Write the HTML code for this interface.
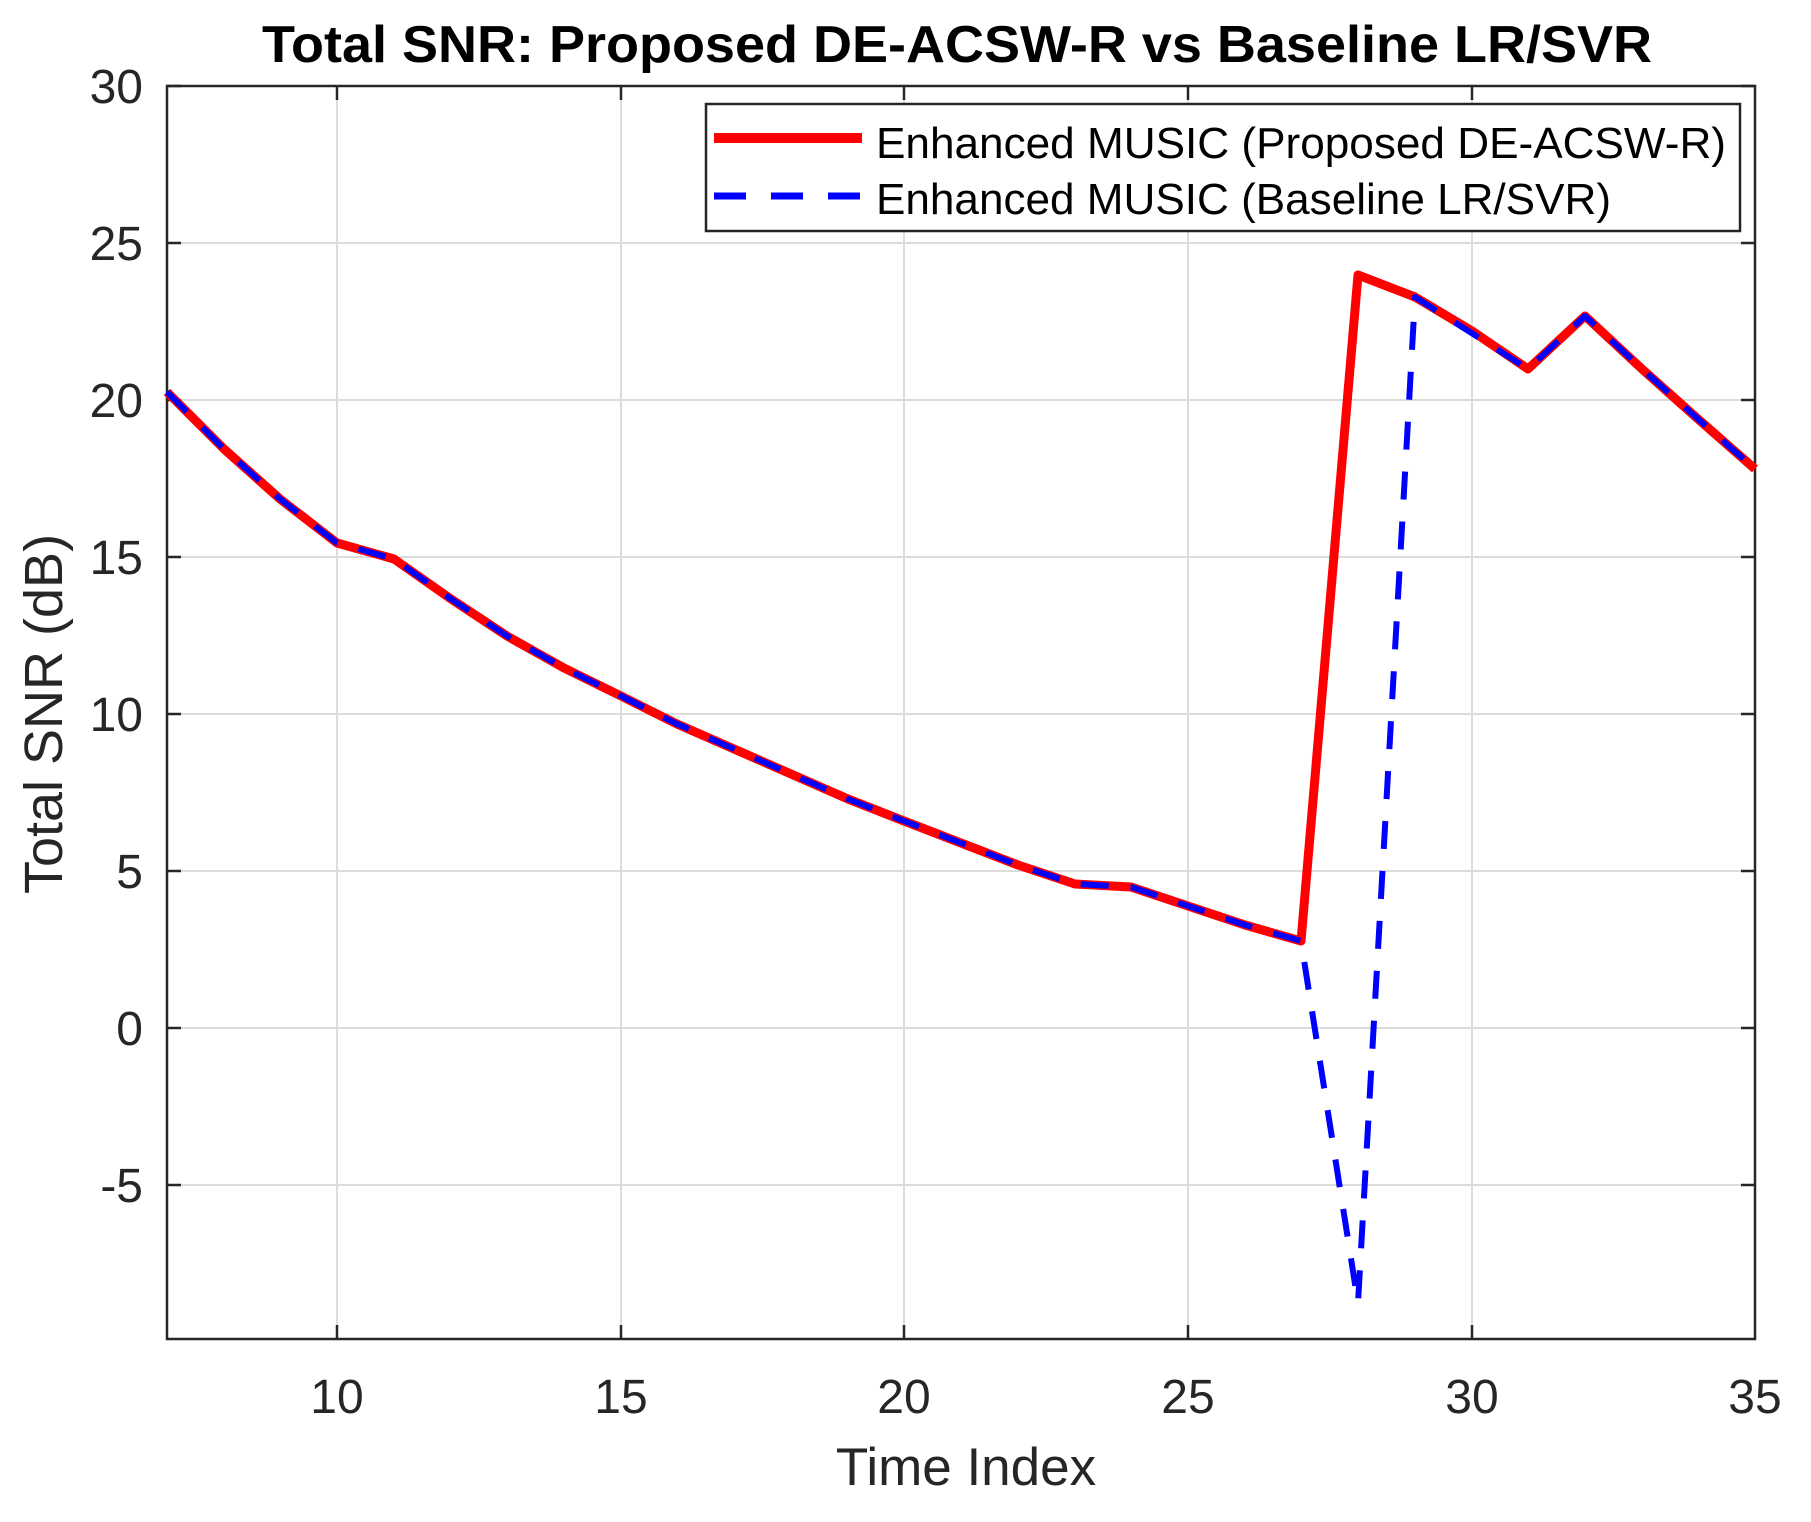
<!DOCTYPE html>
<html><head><meta charset="utf-8"><style>
html,body{margin:0;padding:0;background:#fff;}
svg{display:block;font-family:"Liberation Sans",Arial,sans-serif;}
</style></head><body>
<svg width="1811" height="1522" viewBox="0 0 1811 1522" xmlns="http://www.w3.org/2000/svg">
<rect width="1811" height="1522" fill="#fff"/>
<g stroke="#dcdcdc" stroke-width="2">
<line x1="337" y1="86" x2="337" y2="1339"/><line x1="621" y1="86" x2="621" y2="1339"/><line x1="904" y1="86" x2="904" y2="1339"/><line x1="1188" y1="86" x2="1188" y2="1339"/><line x1="1472" y1="86" x2="1472" y2="1339"/>
<line x1="167" y1="243" x2="1755" y2="243"/><line x1="167" y1="400" x2="1755" y2="400"/><line x1="167" y1="557" x2="1755" y2="557"/><line x1="167" y1="714" x2="1755" y2="714"/><line x1="167" y1="871" x2="1755" y2="871"/><line x1="167" y1="1028" x2="1755" y2="1028"/><line x1="167" y1="1185" x2="1755" y2="1185"/>
</g>
<g stroke="#262626" stroke-width="2.5">
<line x1="337" y1="1339" x2="337" y2="1325"/><line x1="621" y1="1339" x2="621" y2="1325"/><line x1="904" y1="1339" x2="904" y2="1325"/><line x1="1188" y1="1339" x2="1188" y2="1325"/><line x1="1472" y1="1339" x2="1472" y2="1325"/>
<line x1="337" y1="86" x2="337" y2="100"/><line x1="621" y1="86" x2="621" y2="100"/><line x1="904" y1="86" x2="904" y2="100"/><line x1="1188" y1="86" x2="1188" y2="100"/><line x1="1472" y1="86" x2="1472" y2="100"/>
<line x1="167" y1="86" x2="181" y2="86"/><line x1="167" y1="243" x2="181" y2="243"/><line x1="167" y1="400" x2="181" y2="400"/><line x1="167" y1="557" x2="181" y2="557"/><line x1="167" y1="714" x2="181" y2="714"/><line x1="167" y1="871" x2="181" y2="871"/><line x1="167" y1="1028" x2="181" y2="1028"/><line x1="167" y1="1185" x2="181" y2="1185"/>
<line x1="1755" y1="86" x2="1741" y2="86"/><line x1="1755" y1="243" x2="1741" y2="243"/><line x1="1755" y1="400" x2="1741" y2="400"/><line x1="1755" y1="557" x2="1741" y2="557"/><line x1="1755" y1="714" x2="1741" y2="714"/><line x1="1755" y1="871" x2="1741" y2="871"/><line x1="1755" y1="1028" x2="1741" y2="1028"/><line x1="1755" y1="1185" x2="1741" y2="1185"/>
<rect x="167" y="86" width="1588" height="1253" fill="none"/>
</g>
<polyline fill="none" stroke="#ff0000" stroke-width="9" stroke-linejoin="round" points="167,392 224,449 280,499 337,543 394,559 451,599 507,636 564,668 621,696 677,724 734,749 791,774 848,799 904,821 961,843 1018,865 1075,884 1131,887 1188,906 1245,925 1301,941 1358,275 1415,297 1472,331 1528,369 1585,316 1642,369 1698,419 1755,469"/>
<polyline fill="none" stroke="#0000ff" stroke-width="6" stroke-dasharray="28,22" stroke-linejoin="round" points="167,392 224,449 280,499 337,543 394,559 451,599 507,636 564,668 621,696 677,724 734,749 791,774 848,799 904,821 961,843 1018,865 1075,884 1131,887 1188,906 1245,925 1301,941 1358,1303 1415,297 1528,369 1585,316 1642,369 1698,419 1755,469"/>
<g fill="#262626" font-size="48">
<g text-anchor="end">
<text x="143" y="103">30</text><text x="143" y="260">25</text><text x="143" y="417">20</text><text x="143" y="574">15</text><text x="143" y="731">10</text><text x="143" y="888">5</text><text x="143" y="1045">0</text><text x="143" y="1202">-5</text>
</g>
<g text-anchor="middle">
<text x="337" y="1413">10</text><text x="621" y="1413">15</text><text x="904" y="1413">20</text><text x="1188" y="1413">25</text><text x="1472" y="1413">30</text><text x="1755" y="1413">35</text>
<text x="966" y="1485" font-size="53">Time Index</text>
<text transform="translate(62,714) rotate(-90)" font-size="54">Total SNR (dB)</text>
</g>
</g>
<text x="262" y="62" textLength="1390" lengthAdjust="spacingAndGlyphs" font-size="52" font-weight="bold" fill="#000">Total SNR: Proposed DE-ACSW-R vs Baseline LR/SVR</text>
<rect x="706" y="104" width="1034" height="127" fill="#fff" stroke="#262626" stroke-width="2.5"/>
<line x1="714" y1="138" x2="862" y2="138" stroke="#ff0000" stroke-width="10"/>
<line x1="714" y1="196" x2="862" y2="196" stroke="#0000ff" stroke-width="7" stroke-dasharray="32,25"/>
<text x="876" y="158" font-size="44" textLength="850" lengthAdjust="spacingAndGlyphs" fill="#000">Enhanced MUSIC (Proposed DE-ACSW-R)</text>
<text x="876" y="214" font-size="44" textLength="735" lengthAdjust="spacingAndGlyphs" fill="#000">Enhanced MUSIC (Baseline LR/SVR)</text>
</svg>
</body></html>
